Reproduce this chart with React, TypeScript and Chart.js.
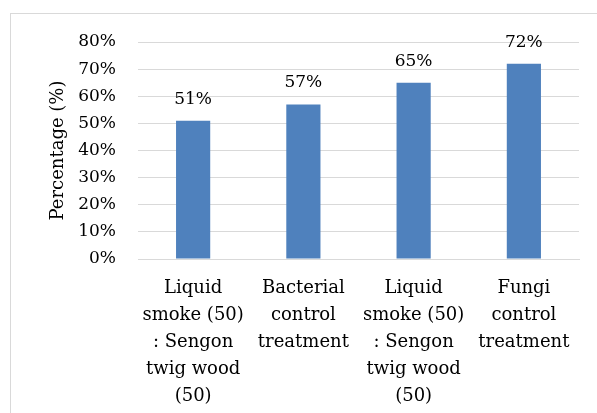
import React, { useEffect, useRef } from "react";
import { Chart, registerables } from "chart.js";

Chart.register(...registerables);

const categories: string[][] = [
  ["Liquid", "smoke (50)", ": Sengon", "twig wood", "(50)"],
  ["Bacterial", "control", "treatment"],
  ["Liquid", "smoke (50)", ": Sengon", "twig wood", "(50)"],
  ["Fungi", "control", "treatment"],
];
const percentages: number[] = [51, 57, 65, 72];
const yTicks: number[] = [0, 10, 20, 30, 40, 50, 60, 70, 80];

const FONT = "'DejaVu Serif', serif";
const TEXT = "#000000";
const GRID = "#d9d9d9";
const BAR = "#4f81bd";

const valueLabels = {
  id: "valueLabels",
  afterDatasetsDraw(chart: Chart) {
    const ctx = chart.ctx;
    const meta = chart.getDatasetMeta(0);
    ctx.save();
    ctx.font = `17px ${FONT}`;
    ctx.fillStyle = TEXT;
    ctx.textAlign = "center";
    ctx.textBaseline = "alphabetic";
    meta.data.forEach((el: any, i: number) => {
      ctx.fillText(`${percentages[i]}%`, el.x, el.y - 17);
    });
    ctx.restore();
  },
};

export default function App() {
  const ref = useRef<HTMLCanvasElement | null>(null);

  useEffect(() => {
    if (!ref.current) return;
    const chart = new Chart(ref.current, {
      type: "bar",
      data: {
        labels: categories,
        datasets: [
          {
            data: percentages,
            backgroundColor: BAR,
            borderWidth: 0,
            barPercentage: 0.31,
            categoryPercentage: 1,
          },
        ],
      },
      options: {
        animation: false,
        responsive: false,
        maintainAspectRatio: false,
        layout: { padding: { left: 0, top: 42, right: 18, bottom: 0 } },
        plugins: {
          legend: { display: false },
          tooltip: { enabled: false },
        },
        scales: {
          x: {
            grid: { display: false, drawTicks: false },
            border: { display: true, color: GRID, width: 1 },
            ticks: {
              color: TEXT,
              font: { family: FONT, size: 18, lineHeight: 1.5 },
              maxRotation: 0,
              autoSkip: false,
              padding: 16,
            },
            afterFit: (s: any) => {
              s.height = 154;
            },
          },
          y: {
            min: 0,
            max: 80,
            afterBuildTicks: (s: any) => {
              s.ticks = yTicks.map((v) => ({ value: v }));
            },
            grid: { color: GRID, lineWidth: 1, drawTicks: false },
            border: { display: false },
            ticks: {
              color: TEXT,
              font: { family: FONT, size: 17 },
              padding: 22,
              callback: (v: any) => `${v}%`,
            },
            title: {
              display: true,
              text: "Percentage (%)",
              color: TEXT,
              font: { family: FONT, size: 18 },
              padding: { top: 48, bottom: 0 },
            },
            afterFit: (s: any) => {
              s.width = 138;
            },
          },
        },
      },
      plugins: [valueLabels],
    });
    return () => chart.destroy();
  }, []);

  return (
    <div
      style={{
        position: "fixed",
        left: 0,
        top: 0,
        width: 597,
        height: 413,
        overflow: "hidden",
        background: "#ffffff",
      }}
    >
      <div
        style={{
          position: "absolute",
          left: 10,
          top: 13,
          width: 620,
          height: 440,
          border: `1px solid ${GRID}`,
          boxSizing: "border-box",
        }}
      />
      <canvas
        ref={ref}
        width={597}
        height={413}
        style={{ position: "absolute", left: 0, top: 0 }}
      />
    </div>
  );
}
